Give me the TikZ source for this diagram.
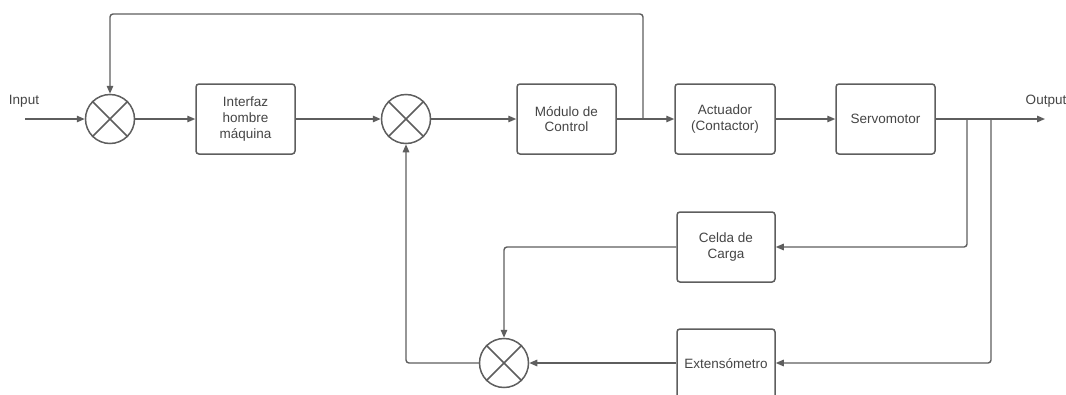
\documentclass[tikz,border=0pt]{standalone}
\usepackage{fontspec}
\setmainfont{Liberation Sans}
\usetikzlibrary{arrows.meta}
\definecolor{ln}{HTML}{5E5E5E}
\definecolor{tx}{HTML}{454545}
\begin{document}
\begin{tikzpicture}[x=1pt,y=-1pt,
  every node/.style={font=\fontsize{13.5}{15.7}\selectfont, text=tx},
  blk/.style={draw=ln, line width=1.5pt, rounded corners=3pt, minimum height=70pt, align=center, inner sep=0pt},
  sumj/.style={draw=ln, line width=1.5pt, circle, minimum size=49pt, inner sep=0pt},
  conn/.style={draw=ln, line width=1.4pt, rounded corners=3pt, -{Triangle[length=8pt,width=6.5pt]}},
  wire/.style={draw=ln, line width=1.4pt, rounded corners=3pt}]
\useasboundingbox[fill=white] (0,0) rectangle (1066,394);
\begin{scope}
\clip (0,0) rectangle (1066,394);
\node[sumj] (s1) at (110,119) {};
\node[sumj] (s2) at (406,119) {};
\node[sumj] (s3) at (504,363) {};
\foreach \s in {s1,s2,s3}{
  \draw[ln, line width=1.5pt] (\s.north east) -- (\s.south west) (\s.north west) -- (\s.south east);
}
\node[blk, minimum width=99pt] (hmi) at (245.5,119) {Interfaz\\hombre\\máquina};
\node[blk, minimum width=99pt] (ctrl) at (566.5,119) {Módulo de\\Control};
\node[blk, minimum width=100pt] (act) at (725,119) {Actuador\\(Contactor)};
\node[blk, minimum width=99pt] (servo) at (885.5,119) {Servomotor};
\node[blk, minimum width=98pt] (celda) at (726,247) {Celda de\\Carga};
\node[blk, minimum width=98pt] (ext) at (726,364) {Extensómetro};
\node (inp) at (24,101) {Input};
\node (outp) at (1046,101) {Output};
\coordinate (cin) at (25,119);
\coordinate (cout) at (1045,119);
\coordinate (j1) at (643,119);
\coordinate (b1) at (967,119);
\coordinate (b2) at (991,119);
\draw[conn] (cin) -- (s1.west);
\draw[conn] (s1.east) -- (hmi.west);
\draw[conn] (hmi.east) -- (s2.west);
\draw[conn] (s2.east) -- (ctrl.west);
\draw[conn] (ctrl.east) -- (act.west);
\draw[conn] (j1) -- (643,14) -- (110,14) -- (s1.north);
\draw[conn] (act.east) -- (servo.west);
\draw[conn] (servo.east) -- (cout);
\draw[conn] (b1) -- (967,247) -- (celda.east);
\draw[conn] (b2) -- (991,363) -- (ext.east |- 0,363);
\draw[conn] (celda.west) -- (504,247) -- (s3.north);
\draw[conn] (ext.west |- 0,363) -- (s3.east);
\draw[conn] (s3.west) -- (406,363) -- (s2.south);
\end{scope}
\end{tikzpicture}
\end{document}
